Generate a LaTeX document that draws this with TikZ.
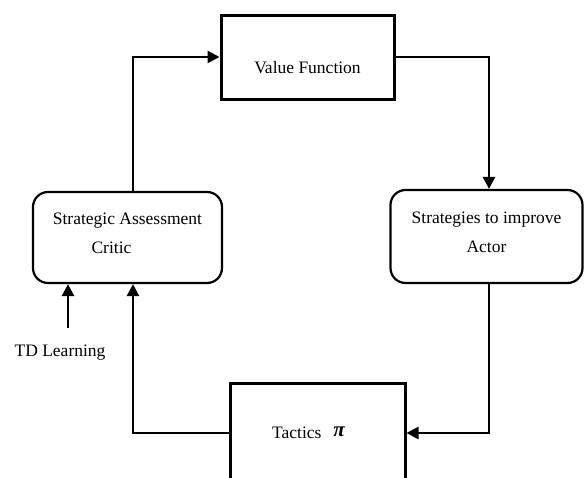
\documentclass[tikz,border=0pt]{standalone}
\usepackage{fontspec}
\setmainfont{Liberation Serif}
\usetikzlibrary{arrows.meta}
\begin{document}
\begin{tikzpicture}[x=1pt,y=-1pt,
  sqbox/.style={draw, line width=3pt, fill=white, inner sep=0pt, font=\fontsize{17.5}{29}\selectfont},
  rbox/.style={draw, line width=2.2pt, rounded corners=15pt, fill=white, inner sep=0pt, align=center, font=\fontsize{17.5}{29}\selectfont},
  arr/.style={line width=2.6pt, -{Triangle[length=12pt,width=12pt]}},
  ln/.style={line width=2.6pt}]
\useasboundingbox (0,0) rectangle (584,477);
\clip (0,0) rectangle (584,477);
\node[sqbox, minimum width=173pt, minimum height=84pt] (vf) at (307.5,57) {\raisebox{-16pt}[0pt][0pt]{Value Function}};
\node[rbox, minimum width=189pt, minimum height=91pt] (critic) at (127.5,237.5) {\raisebox{-0.5pt}[0pt][0pt]{\begin{tabular}{c}Strategic Assessment\\[0pt]Critic\hspace*{32pt}\end{tabular}}};
\node[rbox, minimum width=192pt, minimum height=93pt] (actor) at (486.5,236.5) {\raisebox{-0.5pt}[0pt][0pt]{\begin{tabular}{c}Strategies to improve\\[0pt]Actor\end{tabular}}};
\node[sqbox, minimum width=175pt, minimum height=100pt] (tact) at (317.5,433) {\hspace{-18pt}Tactics\hspace{12pt}\raisebox{2pt}{\fontsize{21}{21}\selectfont\bfseries\itshape π}};
\node[font=\fontsize{17.5}{21}\selectfont, inner sep=0pt] (td) at (60,353) {TD Learning};
\coordinate (tdtop) at (68,328);
\coordinate (lx) at (133,0);
\coordinate (rx) at (489,0);
% critic -> value function
\draw[arr] (critic.north -| lx) |- (vf.west);
% value function -> actor
\draw[arr] (vf.east) -| (actor.north -| rx);
% actor -> tactics
\draw[arr] (actor.south -| rx) |- (tact.east);
% tactics -> critic
\draw[arr] (tact.west) -| (critic.south -| lx);
% TD learning -> critic
\draw[arr] (tdtop) -- (critic.south -| tdtop);
\end{tikzpicture}
\end{document}
